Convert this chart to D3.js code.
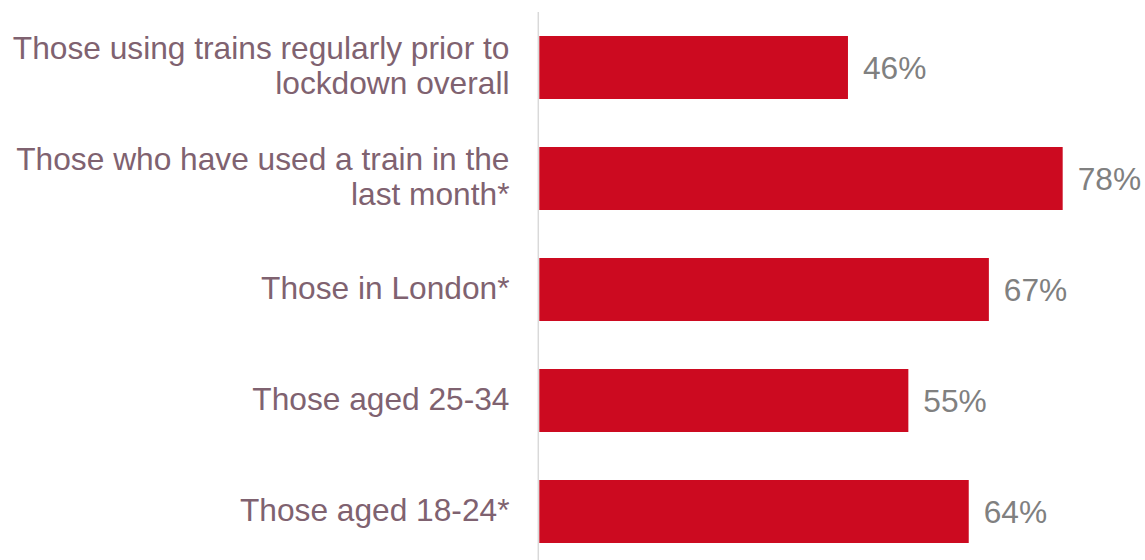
<!DOCTYPE html>
<html>
<head>
<meta charset="utf-8">
<script src="https://cdn.jsdelivr.net/npm/d3@7"></script>
<style>
html,body{margin:0;padding:0;background:#fff;}
svg{display:block;}
</style>
</head>
<body>
<svg id="chart" width="1145" height="560"></svg>
<script>
const categories = [
  ["Those using trains regularly prior to", "lockdown overall"],
  ["Those who have used a train in the", "last month*"],
  ["Those in London*"],
  ["Those aged 25-34"],
  ["Those aged 18-24*"]
];
const values = [46, 78, 67, 55, 64];
const valueLabels = ["46%", "78%", "67%", "55%", "64%"];

const svg = d3.select("#chart");
const font = "'Liberation Sans', Arial, sans-serif";
const fontSize = 31.7;

const x = d3.scaleLinear().domain([0, 100]).range([539.3, 1210.3]);
const y = d3.scaleBand()
  .domain(d3.range(categories.length))
  .range([12, 567])
  .paddingInner(0.4324)
  .paddingOuter(0.2162);

// axis line
svg.append("line")
  .attr("x1", 538.3).attr("x2", 538.3)
  .attr("y1", 12).attr("y2", 560)
  .attr("stroke", "#d9d9d9").attr("stroke-width", 1.5);

// bars
svg.selectAll("rect.bar").data(values).join("rect")
  .attr("class", "bar")
  .attr("x", x(0))
  .attr("y", (d, i) => y(i))
  .attr("width", d => x(d) - x(0))
  .attr("height", y.bandwidth())
  .attr("fill", "#cc0a20");

// value labels
svg.selectAll("text.val").data(values).join("text")
  .attr("class", "val")
  .attr("x", d => x(d) + 15)
  .attr("y", (d, i) => y(i) + y.bandwidth() / 2 + 11.5)
  .attr("font-family", font)
  .attr("font-size", fontSize)
  .attr("fill", "#808080")
  .text((d, i) => valueLabels[i]);

// category labels
const lineH = 35;
const cat = svg.selectAll("text.cat").data(categories).join("text")
  .attr("class", "cat")
  .attr("text-anchor", "end")
  .attr("font-family", font)
  .attr("font-size", fontSize)
  .attr("fill", "#7f6270");
cat.each(function(lines, i) {
  const cy = y(i) + y.bandwidth() / 2 + 9;
  const start = cy - (lines.length - 1) * lineH / 2;
  d3.select(this).selectAll("tspan").data(lines).join("tspan")
    .attr("x", 509.5)
    .attr("y", (l, j) => start + j * lineH)
    .text(l => l);
});
</script>
</body>
</html>
